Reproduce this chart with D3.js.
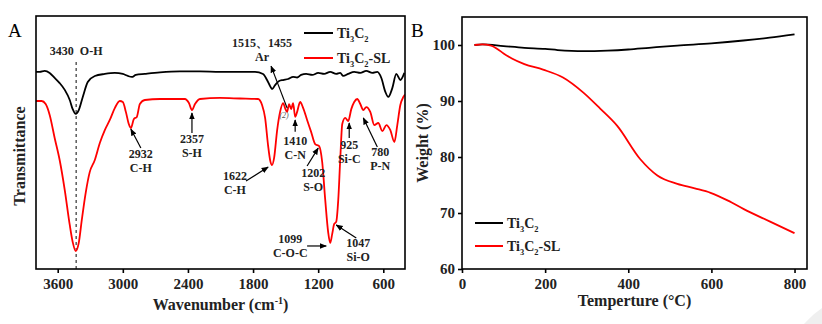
<!DOCTYPE html>
<html>
<head>
<meta charset="utf-8">
<script src="https://cdn.jsdelivr.net/npm/d3@7"></script>
<style>
  body { margin: 0; background: #fff; }
  svg text { font-family: 'Liberation Serif', 'Times New Roman', serif; }
</style>
</head>
<body>
<div class="chart"></div>
<script>
// ---- panel A data (FTIR), wavenumber / transmittance (arb. units)
const irWave = [3800, 3766, 3720, 3674, 3628, 3582, 3535, 3489, 3462, 3434, 3406, 3369, 3323, 3258, 3166, 3074, 3000, 2954, 2917, 2880, 2797, 2658, 2474, 2289, 2105, 1920, 1782, 1708, 1671, 1643, 1625, 1597, 1560, 1523, 1477, 1431, 1394, 1357, 1311, 1255, 1200, 1145, 1089, 1034, 997, 969, 923, 868, 812, 757, 701, 655, 618, 581, 554, 517, 480, 443, 406];
const irTi3C2 = [77.9, 77.9, 78.3, 77.5, 75.5, 73.5, 70.8, 66.8, 63.2, 61.3, 62.8, 68.0, 73.9, 76.3, 77.1, 77.5, 77.1, 76.3, 75.9, 76.7, 77.1, 77.7, 78.1, 78.1, 77.9, 77.9, 77.9, 77.1, 74.7, 72.3, 71.1, 72.7, 74.3, 74.7, 75.1, 75.9, 75.7, 76.7, 77.1, 76.7, 77.5, 77.1, 77.9, 77.1, 77.5, 76.3, 77.1, 77.9, 77.5, 78.3, 77.5, 77.9, 75.5, 70.0, 68.0, 71.5, 77.1, 74.7, 77.5];

const irWaveSL = [3800, 3748, 3711, 3674, 3628, 3582, 3535, 3489, 3462, 3434, 3406, 3378, 3341, 3305, 3258, 3212, 3166, 3120, 3074, 3028, 3000, 2972, 2945, 2926, 2898, 2871, 2843, 2797, 2658, 2428, 2391, 2363, 2335, 2289, 2105, 1920, 1754, 1717, 1689, 1662, 1643, 1625, 1606, 1578, 1551, 1523, 1505, 1486, 1468, 1449, 1431, 1412, 1394, 1366, 1338, 1302, 1265, 1228, 1191, 1163, 1135, 1108, 1089, 1071, 1052, 1034, 1015, 997, 978, 951, 923, 895, 868, 840, 812, 784, 757, 720, 683, 646, 609, 572, 535, 498, 471, 443, 415, 400];
const irTi3C2SL = [66.4, 66.4, 65.2, 60.9, 51.8, 43.1, 31.2, 17.4, 10.7, 7.1, 10.3, 19.4, 30.4, 38.3, 43.1, 49.8, 54.9, 58.9, 63.6, 66.4, 66.0, 62.1, 57.3, 55.7, 59.3, 60.1, 65.2, 66.8, 67.2, 67.2, 65.6, 62.8, 65.2, 67.2, 67.6, 67.4, 67.2, 64.8, 59.7, 49.0, 43.1, 41.1, 43.9, 54.9, 62.1, 65.6, 63.6, 62.1, 65.2, 63.2, 65.6, 60.1, 62.1, 66.0, 63.6, 58.9, 54.2, 49.4, 48.6, 42.3, 27.3, 14.6, 10.3, 13.8, 17.8, 18.6, 27.3, 43.1, 57.3, 59.7, 58.5, 63.2, 66.0, 67.2, 65.2, 62.8, 64.0, 62.1, 56.9, 57.7, 54.5, 56.9, 54.9, 50.2, 56.9, 64.8, 68.0, 69.0];

const irTicks = [3600, 3000, 2400, 1800, 1200, 600];

// peak annotations: text position, arrow from -> to (all in wavenumber / transmittance)
const irNotes = [
  {lines: ['2932', 'C-H'], at: [2834, 43.9], from: [2834, 47.8], to: [2926, 55.3]},
  {lines: ['2357', 'S-H'], at: [2363, 49.8], from: [2363, 53.8], to: [2363, 61.7]},
  {lines: ['1622', 'C-H'], at: [1967, 35.2], from: [1865, 34.8], to: [1661, 40.3]},
  {lines: ['1410', 'C-N'], at: [1412, 49.0], from: [1412, 54.2], to: [1412, 58.9]},
  {lines: ['1202', 'S-O'], at: [1246, 36.4], from: [1302, 40.7], to: [1200, 47.8]},
  {lines: ['925', 'Si-C'], at: [914, 47.4], from: [914, 51.8], to: [914, 57.7]},
  {lines: ['780', 'P-N'], at: [628, 44.7], from: [655, 48.2], to: [784, 59.7]},
  {lines: ['1099', 'C-O-C'], at: [1457, 10.3], from: [1302, 9.1], to: [1126, 9.1]},
  {lines: ['1047', 'Si-O'], at: [831, 8.7], from: [849, 12.3], to: [1034, 17.4]},
  {lines: ['1515、1455', 'Ar'], at: [1717, 87.7], from: [1486, 63.6], to: [1634, 80.2]}
];

// ---- panel B data (TGA)
const tgaTemp = [30, 50, 100, 150, 200, 230, 292, 350, 400, 450, 518, 600, 677, 740, 800];
const tgaTi3C2 = [100, 100.1, 99.8, 99.5, 99.3, 99.1, 98.9, 99.0, 99.2, 99.5, 99.9, 100.3, 100.8, 101.3, 101.9];
const tgaTempSL = [30, 48, 70, 85, 100, 120, 150, 195, 243, 292, 333, 373, 429, 470, 518, 560, 598, 640, 678, 740, 800];
const tgaTi3C2SL = [100, 100.1, 99.9, 99.3, 98.5, 97.6, 96.6, 95.6, 94.2, 91.5, 88.6, 85.6, 79.6, 76.7, 75.2, 74.4, 73.6, 72.2, 70.7, 68.5, 66.4];
const tgaXTicks = [0, 200, 400, 600, 800];
const tgaYTicks = [60, 70, 80, 90, 100];

const seriesNames = ['Ti3C2', 'Ti3C2-SL'];
const colors = ['#000000', '#ff0000'];

const width = 822;
const height = 324;

const svg = d3.select('.chart').append('svg')
  .attr('width', width).attr('height', height);

// faint watermark circle in the corner
svg.append('circle')
  .attr('cx', 880).attr('cy', 392).attr('r', 102)
  .attr('fill', '#efefef');

// draws "Ti3C2" style names with subscripts
function chemName(sel, name, size) {
  const parts = name.match(/[A-Za-z\-]+|\d+/g);
  let shift = 0;
  parts.forEach(p => {
    const sub = /^\d+$/.test(p);
    const dy = (sub ? size * 0.3 : 0) - shift;
    shift = sub ? size * 0.3 : 0;
    sel.append('tspan')
      .attr('font-size', sub ? size * 0.6 : size)
      .attr('dy', dy)
      .text(p);
  });
}

// ================= PANEL A =================
const A = {left: 36, right: 405, top: 16, bottom: 269};
const xA = d3.scaleLinear().domain([3800, 400]).range([A.left, A.right]);
const yA = d3.scaleLinear().domain([0, 100]).range([A.bottom, A.top]);

const gA = svg.append('g');

svg.append('defs').append('marker')
  .attr('id', 'arrow')
  .attr('viewBox', '0 0 10 10')
  .attr('refX', 9).attr('refY', 5)
  .attr('markerWidth', 6).attr('markerHeight', 6)
  .attr('orient', 'auto')
  .append('path').attr('d', 'M0,1 L10,5 L0,9 Z').attr('fill', '#000');

svg.append('clipPath').attr('id', 'clipA')
  .append('rect').attr('x', A.left).attr('y', A.top)
  .attr('width', A.right - A.left).attr('height', A.bottom - A.top);

// dashed guide at 3430
gA.append('line')
  .attr('x1', xA(3430)).attr('x2', xA(3430))
  .attr('y1', yA(81.8)).attr('y2', yA(0))
  .attr('stroke', '#333').attr('stroke-width', 1.2)
  .attr('stroke-dasharray', '3,3');

const lineA = d3.line()
  .x(d => xA(d[0])).y(d => yA(d[1]))
  .curve(d3.curveMonotoneX);

const irSeries = [
  d3.zip(irWave, irTi3C2),
  d3.zip(irWaveSL, irTi3C2SL)
];
gA.selectAll('.ir').data(irSeries).enter()
  .append('path')
  .attr('class', 'ir')
  .attr('clip-path', 'url(#clipA)')
  .attr('d', d => lineA(d))
  .attr('fill', 'none')
  .attr('stroke', (d, i) => colors[i])
  .attr('stroke-width', 1.8);

// frame + axis
gA.append('rect')
  .attr('x', A.left).attr('y', A.top)
  .attr('width', A.right - A.left).attr('height', A.bottom - A.top)
  .attr('fill', 'none').attr('stroke', '#000').attr('stroke-width', 1.6);

const axisA = gA.append('g')
  .attr('transform', `translate(0, ${A.bottom})`)
  .call(d3.axisBottom(xA).tickValues(irTicks).tickFormat(d3.format('d'))
    .tickSize(4).tickPadding(5).tickSizeOuter(0));
axisA.select('.domain').remove();
axisA.selectAll('line').attr('stroke-width', 1.6);
axisA.selectAll('text')
  .attr('font-family', 'Liberation Serif').attr('font-weight', 'bold')
  .attr('font-size', 15).attr('fill', '#222');

// annotations
const notes = gA.selectAll('.note').data(irNotes).enter()
  .append('g').attr('class', 'note');
notes.append('line')
  .attr('x1', d => xA(d.from[0])).attr('y1', d => yA(d.from[1]))
  .attr('x2', d => xA(d.to[0])).attr('y2', d => yA(d.to[1]))
  .attr('stroke', '#000').attr('stroke-width', 1.2)
  .attr('marker-end', 'url(#arrow)');
notes.each(function(d) {
  const g = d3.select(this);
  d.lines.forEach((t, k) => {
    g.append('text')
      .attr('x', xA(d.at[0]))
      .attr('y', yA(d.at[1]) + k * 14)
      .attr('text-anchor', 'middle')
      .attr('font-weight', 'bold').attr('font-size', 12)
      .attr('fill', '#222')
      .text(t);
  });
});

// little half-hidden label near 1515/1455
gA.append('text')
  .attr('x', xA(1514)).attr('y', yA(59.5))
  .attr('text-anchor', 'middle')
  .attr('font-size', 8).attr('fill', '#555')
  .attr('font-style', 'italic')
  .text('(2)');

gA.append('text')
  .attr('x', xA(3430)).attr('y', yA(84.6))
  .attr('text-anchor', 'middle')
  .attr('font-weight', 'bold').attr('font-size', 12)
  .attr('fill', '#222')
  .attr('xml:space', 'preserve')
  .text('3430  O-H');

// legend A
const legA = gA.selectAll('.legA').data(seriesNames).enter()
  .append('g').attr('class', 'legA')
  .attr('transform', (d, i) => `translate(304, ${33 + i * 25})`);
legA.append('line')
  .attr('x1', 0).attr('x2', 29)
  .attr('stroke', (d, i) => colors[i]).attr('stroke-width', 2);
legA.append('text')
  .attr('x', 33).attr('y', 5)
  .attr('font-size', 14)
  .attr('font-weight', 'bold').attr('fill', '#222')
  .each(function(d) { chemName(d3.select(this), d, 14); });

// axis titles A
gA.append('text')
  .attr('x', (A.left + A.right) / 2).attr('y', 310)
  .attr('text-anchor', 'middle')
  .attr('font-weight', 'bold').attr('font-size', 16).attr('fill', '#222')
  .html('Wavenumber (cm<tspan font-size="10" dy="-6">-1</tspan><tspan dy="6">)</tspan>');
gA.append('text')
  .attr('transform', 'translate(25, 156) rotate(-90)')
  .attr('text-anchor', 'middle')
  .attr('font-weight', 'bold').attr('font-size', 16).attr('fill', '#222')
  .text('Transmittance');
gA.append('text')
  .attr('x', 8).attr('y', 37)
  .attr('font-size', 19)
  .text('A');

// ================= PANEL B =================
const B = {left: 462, right: 807, top: 17, bottom: 269};
const xB = d3.scaleLinear().domain([0, 830]).range([B.left, B.right]);
const yB = d3.scaleLinear().domain([60, 105]).range([B.bottom, B.top]);

const gB = svg.append('g');

const lineB = d3.line()
  .x(d => xB(d[0])).y(d => yB(d[1]))
  .curve(d3.curveMonotoneX);
const tgaSeries = [
  d3.zip(tgaTemp, tgaTi3C2),
  d3.zip(tgaTempSL, tgaTi3C2SL)
];
gB.selectAll('.tga').data(tgaSeries).enter()
  .append('path')
  .attr('class', 'tga')
  .attr('d', d => lineB(d))
  .attr('fill', 'none')
  .attr('stroke', (d, i) => colors[i])
  .attr('stroke-width', 1.8);

gB.append('rect')
  .attr('x', B.left).attr('y', B.top)
  .attr('width', B.right - B.left).attr('height', B.bottom - B.top)
  .attr('fill', 'none').attr('stroke', '#000').attr('stroke-width', 1.6);

const axisBx = gB.append('g')
  .attr('transform', `translate(0, ${B.bottom})`)
  .call(d3.axisBottom(xB).tickValues(tgaXTicks).tickSize(4).tickPadding(5).tickSizeOuter(0));
const axisBy = gB.append('g')
  .attr('transform', `translate(${B.left}, 0)`)
  .call(d3.axisLeft(yB).tickValues(tgaYTicks).tickSize(4).tickPadding(3).tickSizeOuter(0));
[axisBx, axisBy].forEach(ax => {
  ax.select('.domain').remove();
  ax.selectAll('line').attr('stroke-width', 1.6);
  ax.selectAll('text')
    .attr('font-family', 'Liberation Serif').attr('font-weight', 'bold')
    .attr('font-size', 15).attr('fill', '#222');
});

// legend B
const legB = gB.selectAll('.legB').data(seriesNames).enter()
  .append('g').attr('class', 'legB')
  .attr('transform', (d, i) => `translate(475, ${223 + i * 23})`);
legB.append('line')
  .attr('x1', 0).attr('x2', 28)
  .attr('stroke', (d, i) => colors[i]).attr('stroke-width', 2);
legB.append('text')
  .attr('x', 32).attr('y', 5)
  .attr('font-size', 14)
  .attr('font-weight', 'bold').attr('fill', '#222')
  .each(function(d) { chemName(d3.select(this), d, 14); });

gB.append('text')
  .attr('x', (B.left + B.right) / 2).attr('y', 306)
  .attr('text-anchor', 'middle')
  .attr('font-weight', 'bold').attr('font-size', 16).attr('fill', '#222')
  .text('Temperture (°C)');
gB.append('text')
  .attr('transform', 'translate(428, 143) rotate(-90)')
  .attr('text-anchor', 'middle')
  .attr('font-weight', 'bold').attr('font-size', 16).attr('fill', '#222')
  .text('Weight (%)');
gB.append('text')
  .attr('x', 411).attr('y', 37)
  .attr('font-size', 19)
  .text('B');
</script>
</body>
</html>
